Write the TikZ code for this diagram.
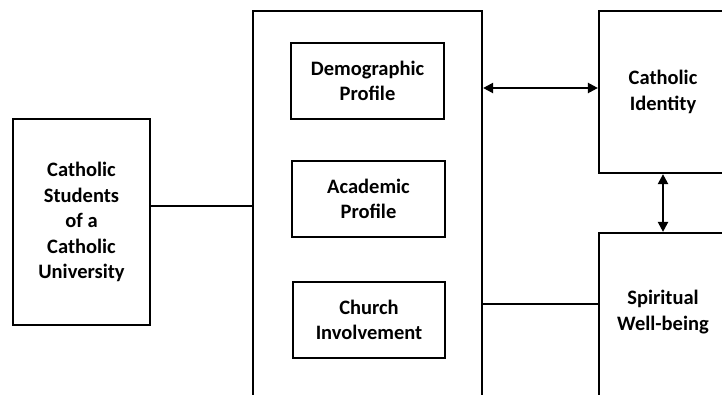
\documentclass[tikz,border=0pt]{standalone}
\usepackage{fontspec}
\setmainfont{Carlito}
\usetikzlibrary{arrows.meta}

\begin{document}
\begin{tikzpicture}[x=1pt,y=-1pt,>={Triangle[length=10pt,width=10pt]},line width=2.2pt,
 box/.style={draw,align=center,inner sep=0pt},
 lbl/.style={align=center,font=\fontsize{20.5}{25.5}\selectfont\bfseries}]
\useasboundingbox (0,0) rectangle (722,394);
\clip (0,0) rectangle (722,394);
% Left: population
\node[box,lbl,minimum width=137pt,minimum height=206pt] (stud) at (81.5,222)
 {Catholic\\Students\\of a\\Catholic\\University};
% Middle frame with the three profile boxes
\node[box,minimum width=229pt,minimum height=420pt] (frame) at (367.5,221) {};
\node[box,lbl,minimum width=153pt,minimum height=76pt] (demo) at (367.5,81) {Demographic\\Profile};
\node[box,lbl,minimum width=153pt,minimum height=76pt] (acad) at (368.5,199) {Academic\\Profile};
\node[box,lbl,minimum width=152pt,minimum height=76pt] (church) at (369,320) {Church\\Involvement};
% Right: outcomes (cut off at the edge)
\node[box,lbl,minimum width=128pt,minimum height=162pt] (ident) at (663,92) {Catholic\\Identity};
\node[box,minimum width=128pt,minimum height=200pt] (spirit) at (663,333) {};
\node[lbl] (spirittxt) at (663,312) {Spiritual\\Well-being};
% Connectors
\draw ([yshift=16pt]stud.east) -- ([yshift=16pt]stud.east -| frame.west);
\draw[<->] ([yshift=4pt]ident.west -| frame.east) -- ([yshift=4pt]ident.west);
\draw[<->] (ident.south) -- (spirit.north);
\draw ([yshift=8pt]spirittxt.west -| frame.east) -- ([yshift=8pt]spirittxt.west -| spirit.west);
\end{tikzpicture}
\end{document}
